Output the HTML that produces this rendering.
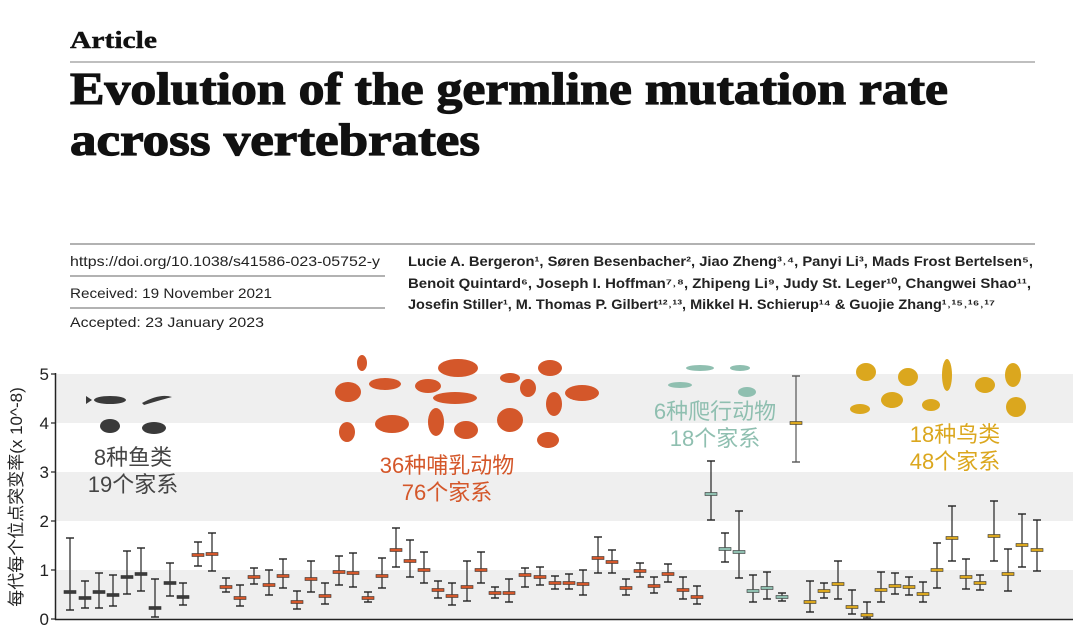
<!DOCTYPE html>
<html><head><meta charset="utf-8"><style>
html,body{margin:0;padding:0;background:#fff;}
svg{display:block;}
</style></head><body>
<svg id="s" width="1080" height="641" viewBox="0 0 1080 641" xmlns="http://www.w3.org/2000/svg">
<text x="70" y="48" font-family="Liberation Serif, serif" font-weight="bold" font-size="24" fill="#111" stroke="#111" stroke-width="0.4" textLength="87" lengthAdjust="spacingAndGlyphs">Article</text>
<line x1="70" y1="62" x2="1035" y2="62" stroke="#aaa" stroke-width="1.5"/>
<text x="70" y="104" font-family="Liberation Serif, serif" font-weight="bold" font-size="46" fill="#111" stroke="#111" stroke-width="1.2" textLength="878" lengthAdjust="spacingAndGlyphs">Evolution of the germline mutation rate</text>
<text x="70" y="155" font-family="Liberation Serif, serif" font-weight="bold" font-size="46" fill="#111" stroke="#111" stroke-width="1.2" textLength="410" lengthAdjust="spacingAndGlyphs">across vertebrates</text>
<line x1="70" y1="244" x2="1035" y2="244" stroke="#999" stroke-width="1.5"/>
<line x1="70" y1="276" x2="385" y2="276" stroke="#999" stroke-width="1.5"/>
<line x1="70" y1="308" x2="385" y2="308" stroke="#999" stroke-width="1.5"/>
<g font-family="Liberation Sans, sans-serif" font-size="14" fill="#222">
<text x="70" y="266" textLength="310" lengthAdjust="spacingAndGlyphs">https://doi.org/10.1038/s41586-023-05752-y</text>
<text x="70" y="298" textLength="202" lengthAdjust="spacingAndGlyphs">Received: 19 November 2021</text>
<text x="70" y="327" textLength="194" lengthAdjust="spacingAndGlyphs">Accepted: 23 January 2023</text>
<text x="408" y="266" textLength="625" lengthAdjust="spacingAndGlyphs" font-weight="bold">Lucie A. Bergeron¹, Søren Besenbacher², Jiao Zheng³˒⁴, Panyi Li³, Mads Frost Bertelsen⁵,</text>
<text x="408" y="288" textLength="623" lengthAdjust="spacingAndGlyphs" font-weight="bold">Benoit Quintard⁶, Joseph I. Hoffman⁷˒⁸, Zhipeng Li⁹, Judy St. Leger¹⁰, Changwei Shao¹¹,</text>
<text x="408" y="309" textLength="587" lengthAdjust="spacingAndGlyphs" font-weight="bold">Josefin Stiller¹, M. Thomas P. Gilbert¹²˒¹³, Mikkel H. Schierup¹⁴ &amp; Guojie Zhang¹˒¹⁵˒¹⁶˒¹⁷</text>
</g>
<rect x="56" y="374" width="1017" height="49" fill="#efefef"/>
<rect x="56" y="472" width="1017" height="49" fill="#efefef"/>
<rect x="56" y="570" width="1017" height="49" fill="#efefef"/>
<line x1="55.5" y1="373" x2="55.5" y2="620" stroke="#222" stroke-width="1.5"/>
<line x1="55" y1="619.5" x2="1073" y2="619.5" stroke="#222" stroke-width="1.5"/>
<g font-family="Liberation Sans, sans-serif" font-size="17" fill="#222" text-anchor="end">
<text x="49" y="380">5</text><text x="49" y="429">4</text><text x="49" y="478">3</text>
<text x="49" y="527">2</text><text x="49" y="576">1</text><text x="49" y="625">0</text>
</g>
<g stroke="#222" stroke-width="1.2">
<line x1="51" y1="374" x2="55" y2="374"/><line x1="51" y1="423" x2="55" y2="423"/><line x1="51" y1="472" x2="55" y2="472"/>
<line x1="51" y1="521" x2="55" y2="521"/><line x1="51" y1="570" x2="55" y2="570"/><line x1="51" y1="619" x2="55" y2="619"/>
</g>
<text transform="translate(22,497) rotate(-90)" text-anchor="middle" font-family="Liberation Sans, 'Noto Sans CJK SC', sans-serif" font-size="17" fill="#222">每代每个位点突变率(x 10^-8)</text>
<g font-family="Liberation Sans, 'Noto Sans CJK SC', sans-serif" font-size="22" text-anchor="middle">
<text x="133" y="465" fill="#444">8种鱼类</text><text x="133" y="492" fill="#444">19个家系</text>
<text x="447" y="473" fill="#d4572a">36种哺乳动物</text><text x="447" y="500" fill="#d4572a">76个家系</text>
<text x="715" y="419" fill="#8fbfb0">6种爬行动物</text><text x="715" y="446" fill="#8fbfb0">18个家系</text>
<text x="955" y="442" fill="#dba71e">18种鸟类</text><text x="955" y="469" fill="#dba71e">48个家系</text>
</g>
<g fill="#3a3a3a">
<ellipse cx="110" cy="400" rx="16" ry="4"/><path d="M92 400 l-6 -4 v8z"/>
<path d="M142 403 q18 -10 30 -6 q-8 2 -28 8z"/>
<ellipse cx="110" cy="426" rx="10" ry="7"/><ellipse cx="154" cy="428" rx="12" ry="6"/>
</g>
<g fill="#d4572a">
<ellipse cx="348" cy="392" rx="13" ry="10"/><ellipse cx="385" cy="384" rx="16" ry="6"/>
<ellipse cx="428" cy="386" rx="13" ry="7"/><ellipse cx="458" cy="368" rx="20" ry="9"/>
<ellipse cx="455" cy="398" rx="22" ry="6"/><ellipse cx="510" cy="378" rx="10" ry="5"/>
<ellipse cx="528" cy="388" rx="8" ry="9"/><ellipse cx="550" cy="368" rx="12" ry="8"/>
<ellipse cx="582" cy="393" rx="17" ry="8"/><ellipse cx="362" cy="363" rx="5" ry="8"/>
<ellipse cx="347" cy="432" rx="8" ry="10"/><ellipse cx="392" cy="424" rx="17" ry="9"/>
<ellipse cx="436" cy="422" rx="8" ry="14"/><ellipse cx="466" cy="430" rx="12" ry="9"/>
<ellipse cx="510" cy="420" rx="13" ry="12"/><ellipse cx="554" cy="404" rx="8" ry="12"/>
<ellipse cx="548" cy="440" rx="11" ry="8"/>
</g>
<g fill="#8fbfb0">
<ellipse cx="680" cy="385" rx="12" ry="3"/><ellipse cx="700" cy="368" rx="14" ry="3"/>
<ellipse cx="740" cy="368" rx="10" ry="3"/><ellipse cx="747" cy="392" rx="9" ry="5"/>
</g>
<g fill="#dba71e">
<ellipse cx="866" cy="372" rx="10" ry="9"/><ellipse cx="908" cy="377" rx="10" ry="9"/>
<ellipse cx="947" cy="375" rx="5" ry="16"/><ellipse cx="985" cy="385" rx="10" ry="8"/>
<ellipse cx="1013" cy="375" rx="8" ry="12"/><ellipse cx="860" cy="409" rx="10" ry="5"/>
<ellipse cx="892" cy="400" rx="11" ry="8"/><ellipse cx="931" cy="405" rx="9" ry="6"/>
<ellipse cx="1016" cy="407" rx="10" ry="10"/>
</g>
<g id="bars"></g>
</svg>
<script>
var F="#3a3a3a",M="#d4572a",R="#8fbfb0",B="#dba71e";
var d=[
[70,592,610,538,F],[85,598,608,581,F],[99,592,608,573,F],[113,595,606,575,F],[127,577,594,551,F],[141,574,591,548,F],[155,608,617,579,F],[170,583,596,563,F],[183,597,605,583,F],
[198,555,566,542,M],[212,554,571,533,M],[226,587,592,578,M],[240,598,606,585,M],[254,577,584,568,M],[269,585,595,570,M],[283,576,588,559,M],[297,602,609,591,M],[311,579,592,561,M],[325,596,604,583,M],[339,572,585,556,M],[353,573,587,553,M],[368,598,602,592,M],[382,576,588,558,M],[396,550,567,528,M],[410,561,577,540,M],[424,570,583,552,M],[438,590,598,581,M],[452,596,605,583,M],[467,587,601,561,M],[481,570,583,552,M],[495,593,598,587,M],[509,593,602,579,M],[525,575,587,568,M],
[540,577,585,567,M],[555,583,589,576,M],[569,583,589,574,M],[583,584,595,570,M],[598,558,573,537,M],[612,562,573,550,M],[626,588,595,579,M],[640,571,577,563,M],[654,586,593,577,M],[668,574,582,564,M],[683,590,599,577,M],[697,597,604,586,M],
[711,494,520,461,R],[725,549,562,533,R],[739,552,578,511,R],[753,591,602,575,R],[767,588,599,572,R],[782,597,601,593,R],
[796,423,462,376,B],
[810,602,612,581,B],[824,591,598,583,B],[838,584,599,561,B],[852,607,614,590,B],[867,615,618,602,B],[881,590,602,572,B],[895,586,594,573,B],[909,587,595,577,B],[923,594,602,582,B],[937,570,588,543,B],[952,538,561,506,B],[966,577,589,559,B],[980,583,590,575,B],[994,536,561,501,B],[1008,574,591,549,B],[1022,545,567,514,B],[1037,550,571,520,B]
];
var g=document.getElementById("bars"),h="";
d.forEach(function(b){var x=b[0],c=b[4],wc=(x==796)?"#555":"#222";
h+='<line x1="'+x+'" y1="'+b[3]+'" x2="'+x+'" y2="'+b[2]+'" stroke="'+wc+'" stroke-width="1.2"/>';
h+='<line x1="'+(x-4)+'" y1="'+b[3]+'" x2="'+(x+4)+'" y2="'+b[3]+'" stroke="'+wc+'" stroke-width="1.4"/>';
h+='<line x1="'+(x-4)+'" y1="'+b[2]+'" x2="'+(x+4)+'" y2="'+b[2]+'" stroke="'+wc+'" stroke-width="1.4"/>';
h+='<rect x="'+(x-6)+'" y="'+(b[1]-1.5)+'" width="12" height="3" fill="'+c+'" stroke="#333" stroke-width="0.6"/>';});
g.innerHTML=h;
</script>
</body></html>
